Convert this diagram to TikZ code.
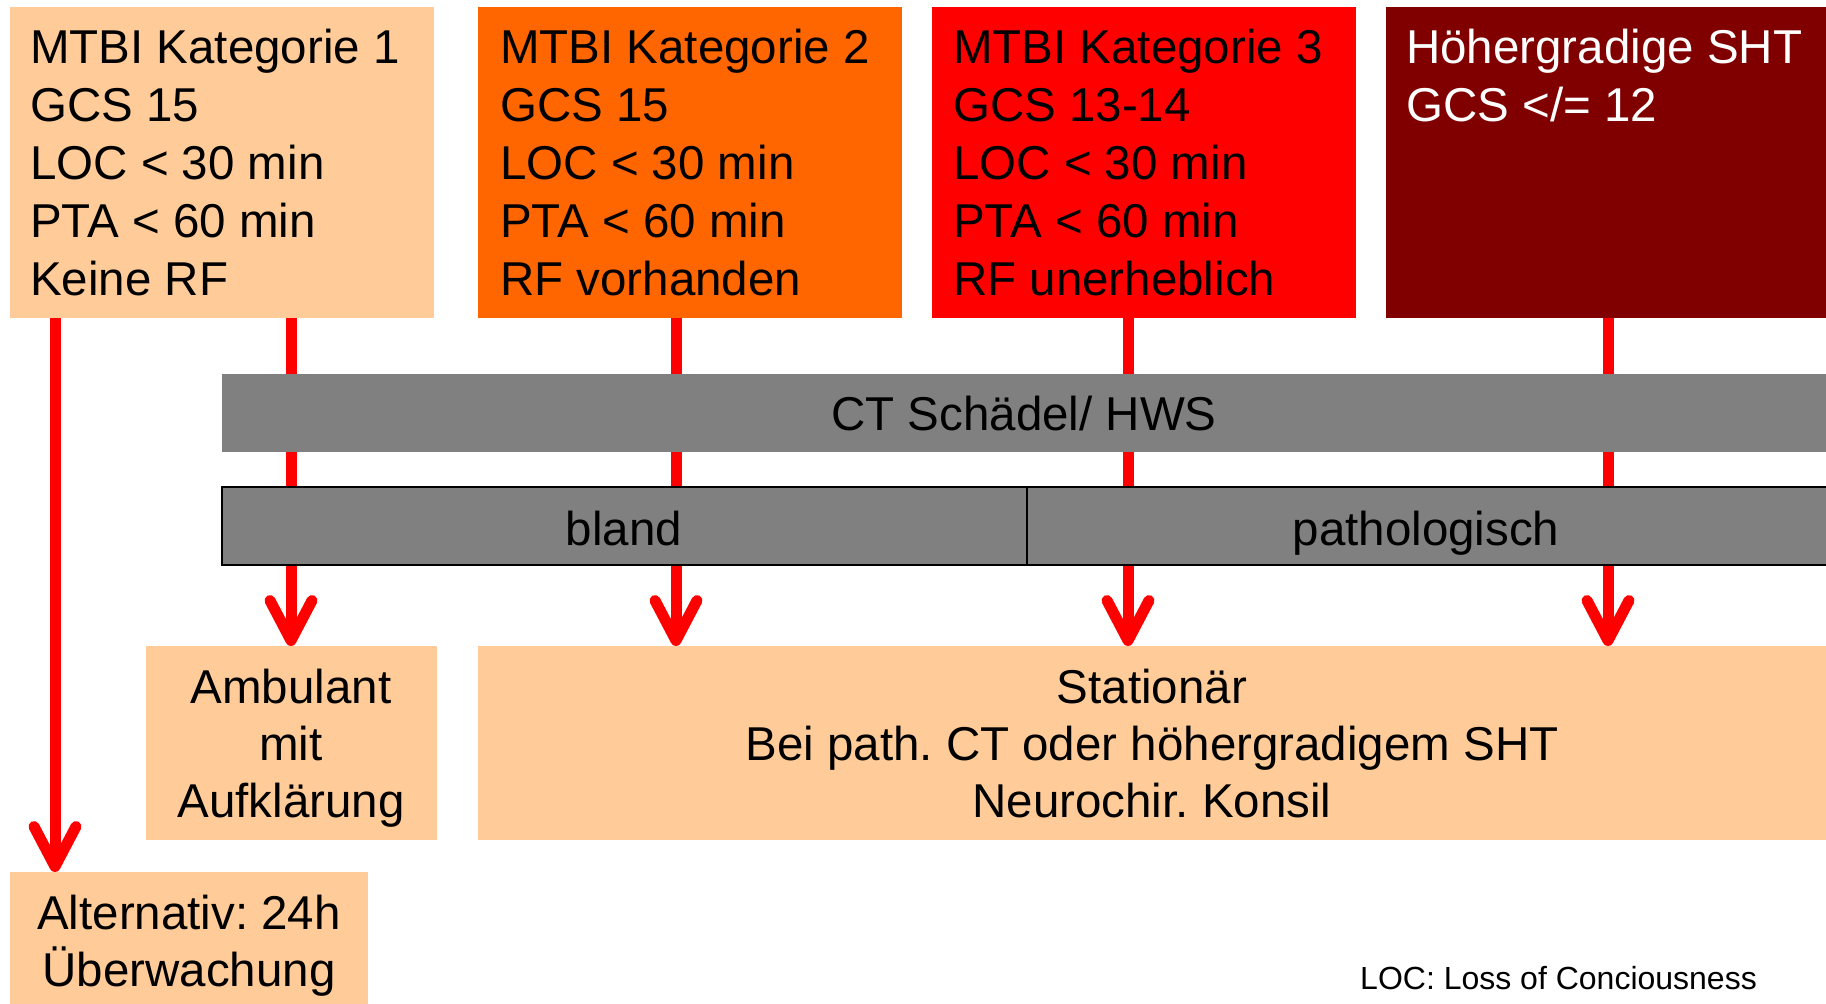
\documentclass[tikz,border=0pt]{standalone}
\usepackage{fontspec}
\setmainfont{Liberation Sans}
\usetikzlibrary{arrows.meta}
\definecolor{peach}{HTML}{FFCC99}
\definecolor{kattwo}{HTML}{FF6600}
\definecolor{katthree}{HTML}{FF0000}
\definecolor{katfour}{HTML}{800000}
\definecolor{bargray}{HTML}{808080}
\definecolor{arrred}{HTML}{FF0000}
\frenchspacing
\begin{document}
\begin{tikzpicture}[x=1pt,y=-1pt,
  box/.style={draw=none, rectangle, inner sep=0pt, outer sep=0pt, anchor=north west},
  txt/.style={inner sep=0pt, anchor=base west, font=\fontsize{47.5}{58}\selectfont},
  ctr/.style={inner sep=0pt, anchor=base, font=\fontsize{47.5}{57}\selectfont},
  arr/.style={draw=arrred, line width=11pt, -{Straight Barb[length=40pt,width=42pt,round]}},
]
\useasboundingbox (0,0) rectangle (1826,1004);
% top category boxes
\node[box, fill=peach, minimum width=424pt, minimum height=311pt] (k1) at (10,7) {};
\node[box, fill=kattwo, minimum width=424pt, minimum height=311pt] (k2) at (478,7) {};
\node[box, fill=katthree, minimum width=424pt, minimum height=311pt] (k3) at (932,7) {};
\node[box, fill=katfour, minimum width=460pt, minimum height=311pt] (k4) at (1386,7) {};
% result boxes
\node[box, fill=peach, minimum width=291pt, minimum height=194pt] (amb) at (146,646) {};
\node[box, fill=peach, minimum width=1370pt, minimum height=194pt] (stat) at (478,646) {};
\node[box, fill=peach, minimum width=358pt, minimum height=140pt] (alt) at (10,872) {};
% arrow columns
\coordinate (xa) at (55,0);
\coordinate (xb) at (291,0);
\coordinate (xc) at (676,0);
\coordinate (xd) at (1128,0);
\coordinate (xe) at (1608,0);
\draw[arr] (k1.south -| xa) -- (alt.north -| xa);
\draw[arr] (k1.south -| xb) -- (amb.north -| xb);
\draw[arr] (k2.south -| xc) -- (stat.north -| xc);
\draw[arr] (k3.south -| xd) -- (stat.north -| xd);
\draw[arr] (k4.south -| xe) -- (stat.north -| xe);
% bars
\node[box, fill=bargray, minimum width=1630pt, minimum height=78pt] (ct) at (222,374) {};
\node[box, fill=bargray, draw=black, line width=2pt, minimum width=805pt, minimum height=78pt] (bland) at (222,487) {};
\node[box, fill=bargray, draw=black, line width=2pt, minimum width=830pt, minimum height=78pt] (path) at (1027,487) {};
% texts
\node[txt] (t1) at (30,63) {\parbox[t]{400pt}{MTBI Kategorie 1\\GCS 15\\LOC < 30 min\\PTA < 60 min\\Keine RF}};
\node[txt] (t2) at (500,63) {\parbox[t]{400pt}{MTBI Kategorie 2\\GCS 15\\LOC < 30 min\\PTA < 60 min\\RF vorhanden}};
\node[txt] (t3) at (953,63) {\parbox[t]{400pt}{MTBI Kategorie 3\\GCS 13-14\\LOC < 30 min\\PTA < 60 min\\RF unerheblich}};
\node[txt, text=white] (t4) at (1406,63) {\parbox[t]{420pt}{Höhergradige SHT\\GCS </= 12}};
\node[ctr] (tct) at (1024,430) {CT Schädel/ HWS};
\node[ctr] (tbland) at (624,545) {bland};
\node[ctr] (tpath) at (1426,545) {pathologisch};
\node[ctr] (tamb) at (291,703) {\parbox[t]{290pt}{\centering Ambulant\\mit\\Aufklärung}};
\node[ctr] (tstat) at (1152,703) {\parbox[t]{1000pt}{\centering Stationär\\Bei path. CT oder höhergradigem SHT\\Neurochir. Konsil}};
\node[ctr] (talt) at (189,929) {\parbox[t]{358pt}{\centering Alternativ: 24h\\Überwachung}};
\node[inner sep=0pt, anchor=base west, font=\fontsize{32}{36}\selectfont] (note) at (1360,989) {LOC: Loss of Conciousness};
\end{tikzpicture}
\end{document}
